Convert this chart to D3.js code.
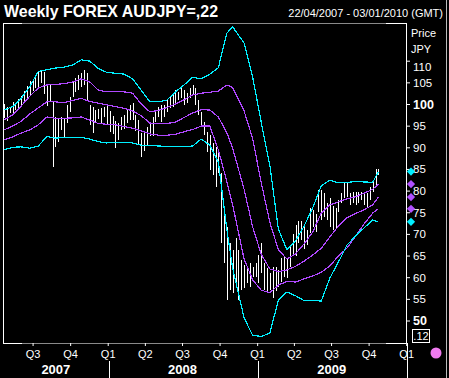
<!DOCTYPE html>
<html><head><meta charset="utf-8">
<script src="https://cdn.jsdelivr.net/npm/d3@7"></script>
<style>
html,body{margin:0;padding:0;background:#000;}
svg{display:block;}
text{font-family:"Liberation Sans",Arial,sans-serif;fill:#fff;}
</style></head><body>
<svg id="c" width="449" height="378"></svg>
<script>
// ---------- DATA ----------
const startDate = "2007-04-22";
const endDate = "2010-01-03";
// weekly bars (week index 0 = 22/04/2007)
const barHigh = [100.0,99.2,99.4,100.4,100.2,101.2,101.8,103.0,104.2,105.2,105.8,106.4,107.4,107.8,107.3,104.2,104.6,100.6,97.1,96.7,
97.1,96.7,99.8,101.7,105.3,106.0,106.7,107.1,107.8,107.1,99.8,99.4,98.6,98.8,99.0,99.4,99.6,98.4,97.3,96.1,
95.6,97.1,97.5,98.8,99.8,100.2,97.5,96.3,93.2,93.8,94.6,95.9,97.1,98.6,99.2,99.8,99.8,100.9,101.7,102.1,
103.2,102.8,104.0,103.2,102.5,103.6,104.4,103.6,100.9,98.2,95.9,93.6,92.8,90.9,90.1,89.4,84.0,75.5,71.7,67.8,
66.3,69.0,66.3,64.0,62.8,62.4,63.2,62.4,63.2,65.1,67.8,63.2,62.1,60.9,62.4,62.4,61.7,64.4,64.7,64.4,
67.5,70.0,72.0,73.0,73.0,72.3,71.0,75.9,75.5,74.6,80.1,80.1,79.4,77.1,78.2,76.5,75.9,77.8,79.4,81.7,
81.7,79.4,79.7,79.7,79.7,79.7,79.7,79.4,80.9,82.4,85.1,85.0];
const barLow = [96.8,96.0,97.9,98.0,98.6,99.0,99.4,100.2,101.3,102.0,103.0,103.8,103.9,104.8,102.4,99.6,100.4,85.5,90.1,91.3,
94.0,92.4,95.5,98.2,101.7,102.8,103.2,104.0,104.4,100.6,95.1,93.2,95.9,96.6,95.5,96.9,95.3,93.6,93.0,89.8,
91.8,94.0,94.2,95.5,96.3,96.4,93.8,90.5,87.8,89.2,90.5,92.5,92.5,95.9,97.1,95.9,97.1,98.2,99.0,99.4,
100.2,100.9,101.3,99.8,100.2,101.3,102.1,99.8,97.5,95.1,92.8,89.0,84.8,83.6,80.9,84.0,68.0,63.2,54.7,57.0,
56.3,58.6,54.7,57.0,57.4,58.6,57.8,60.1,60.1,58.6,60.9,57.0,56.3,57.0,55.1,56.7,57.8,59.0,60.1,59.8,
62.4,65.0,65.0,67.8,68.5,66.5,67.5,70.2,71.5,70.5,75.0,73.2,74.0,73.2,71.7,71.0,71.3,75.1,77.1,78.2,
78.6,76.7,77.1,76.7,77.1,77.8,76.7,75.9,77.8,79.7,80.9,83.6];
// indicator bands, sampled at these week indices
const bandWeeks = [0,3,6,9,12,15,18,21,24,27,30,33,36,39,42,45,48,51,54,57,60,63,66,69,72,75,78,80,84,87,90,93,96,99,102,105,108,111,114,117,120,123,126,129,131];
const upperOuter = [98.6,99.4,101.3,104.0,107.5,107.9,108.3,108.5,109.0,110.2,109.9,108.2,107.3,107.1,106.9,105.8,103.2,100.5,100.5,100.9,102.8,104.4,106.2,105.8,106.9,108.4,116.4,117.8,114.1,106.2,95.8,85.9,71.1,66.3,68.4,71.8,76.0,81.1,82.4,81.8,81.9,82.1,82.0,81.9,84.4];
const upperInner = [96.3,97.5,99.5,101.8,103.7,104.4,104.5,104.7,105.1,105.8,105.1,103.2,102.8,102.8,102.8,102.5,100.0,98.2,98.5,99.2,100.0,101.0,102.1,102.5,102.7,103.0,104.4,103.8,98.4,92.0,81.8,72.7,66.3,64.2,65.4,67.7,70.4,74.8,76.7,77.4,78.1,78.6,79.4,80.3,81.5];
const middle = [94.0,94.9,96.0,97.7,99.1,100.5,100.5,100.3,100.8,101.3,100.6,100.2,99.8,99.4,99.0,98.4,97.3,95.6,95.5,95.5,95.8,96.9,97.9,98.7,98.6,97.0,93.3,89.8,80.3,71.6,65.3,61.9,61.3,61.7,62.5,63.7,65.1,66.7,69.3,71.8,73.7,74.7,75.6,76.7,78.5];
const lowerInner = [91.7,92.4,93.3,94.0,95.2,97.0,96.7,96.7,96.8,97.0,96.3,95.5,95.3,95.2,94.8,94.4,93.8,93.1,92.8,92.8,93.0,93.6,94.1,94.9,94.9,89.4,82.0,76.7,64.2,59.4,57.0,56.4,58.2,59.0,58.9,59.6,60.3,61.1,62.6,64.9,66.7,69.5,72.3,74.8,75.8];
const lowerOuter = [89.4,90.0,90.1,89.8,90.3,92.5,92.1,92.3,92.3,92.3,91.9,91.3,91.0,91.2,91.2,91.0,90.5,90.5,90.3,90.2,90.1,90.1,90.3,91.9,90.5,86.6,70.9,62.1,50.6,46.6,46.3,47.1,54.7,56.6,55.7,54.6,54.6,54.5,59.8,63.5,67.4,69.5,71.4,73.2,72.8];
const priceTicks = [110,105,100,95,90,85,80,75,70,65,60,55,50];
const boldTicks = [100,50];
const quarterDates = ["2007-07-01","2007-10-01","2008-01-01","2008-04-01","2008-07-01","2008-10-01","2009-01-01","2009-04-01","2009-07-01","2009-10-01","2010-01-01"];
const quarterLabels = ["Q3","Q4","Q1","Q2","Q3","Q4","Q1","Q2","Q3","Q4","Q1"];
const yearLabels = ["2007","2008","2009"];
const yearStarts = ["2007-04-22","2008-01-01","2009-01-01"];
const yearEnds = ["2008-01-01","2009-01-01","2010-01-01"];
const titleText = "Weekly FOREX AUDJPY=,22";
const rangeText = "22/04/2007 - 03/01/2010 (GMT)";

// ---------- CHART ----------
const parse = d3.timeParse("%Y-%m-%d");
const t0 = parse(startDate);
const weekDate = w => d3.timeDay.offset(t0, 7 * w);
const svg = d3.select("#c");
const CYAN = "#00f0ff", PURPLE = "#b048ff";

svg.append("rect").attr("width", 449).attr("height", 378).attr("fill", "#000");

const x = d3.scaleTime().domain([t0, parse(endDate)]).range([4, 407]);
const y = d3.scaleLinear().domain([50, 110]).range([320.5, 60.7]);

// frame
svg.append("rect").attr("x", 3.5).attr("y", 23.5).attr("width", 403).attr("height", 320)
  .attr("fill", "none").attr("stroke", "#fff").attr("stroke-width", 1).attr("shape-rendering", "crispEdges");
[23.5, 343.5].forEach(yy => svg.append("line").attr("x1", 22).attr("x2", 386).attr("y1", yy).attr("y2", yy)
  .attr("stroke", "#8a8a8a").attr("shape-rendering", "crispEdges"));

// bars
const bars = svg.append("g").attr("shape-rendering", "crispEdges");
bars.selectAll("line").data(barHigh.map((h, i) => ({i, h, l: barLow[i]}))).join("line")
  .attr("x1", d => Math.round(x(weekDate(d.i))) + 0.5)
  .attr("x2", d => Math.round(x(weekDate(d.i))) + 0.5)
  .attr("y1", d => y(d.h)).attr("y2", d => y(d.l))
  .attr("stroke", "#fff").attr("stroke-width", 1);

// bands
const bandSeries = [
  {vals: upperOuter, color: CYAN}, {vals: upperInner, color: PURPLE}, {vals: middle, color: PURPLE},
  {vals: lowerInner, color: PURPLE}, {vals: lowerOuter, color: CYAN}];
const line = d3.line().x(d => x(weekDate(d[0]))).y(d => y(d[1]));
bandSeries.forEach(s => {
  svg.append("path").datum(bandWeeks.map((w, k) => [w, s.vals[k]]))
    .attr("d", line).attr("fill", "none").attr("stroke", s.color).attr("stroke-width", 1.2)
    .attr("shape-rendering", "crispEdges");
});

// y axis (right)
const yAxis = svg.append("g").attr("transform", "translate(406,0)")
  .call(d3.axisRight(y).tickValues(priceTicks).tickSize(4).tickPadding(3).tickFormat(d3.format("d")));
yAxis.select(".domain").remove();
yAxis.selectAll(".tick line").attr("stroke", "#fff");
yAxis.selectAll(".tick text").attr("fill", "#fff")
  .style("font-family", '"Liberation Sans",Arial,sans-serif')
  .style("font-size", d => boldTicks.includes(d) ? "12.5px" : "11.5px")
  .style("font-weight", d => boldTicks.includes(d) ? "bold" : "normal")
  .attr("dy", d => d === 110 ? "0.85em" : "0.35em");

// band end markers
bandSeries.forEach(s => {
  svg.append("path").attr("d", d3.symbol(d3.symbolSquare, 34)())
    .attr("transform", `translate(411,${y(s.vals[s.vals.length - 1])}) rotate(45)`)
    .attr("fill", s.color === CYAN ? CYAN : "#b050ff");
});

// x axis
const xAxis = svg.append("g").attr("transform", "translate(0,343)")
  .call(d3.axisBottom(x).tickValues(quarterDates.map(parse)).tickSize(3).tickPadding(4)
    .tickFormat((d, i) => quarterLabels[i]));
xAxis.select(".domain").remove();
xAxis.selectAll(".tick line").attr("stroke", "#fff");
xAxis.selectAll(".tick text").attr("fill", "#fff")
  .style("font-family", '"Liberation Sans",Arial,sans-serif').style("font-size", "11px");

// years
yearLabels.forEach((yl, i) => {
  const a = x(parse(yearStarts[i])), b = x(parse(yearEnds[i]));
  svg.append("text").attr("x", (a + b) / 2).attr("y", 374).attr("text-anchor", "middle")
    .style("font-size", "13px").style("font-weight", "bold").text(yl);
  svg.append("line").attr("x1", Math.round(b) + 1.5).attr("x2", Math.round(b) + 1.5)
    .attr("y1", i === 2 ? 343 : 361).attr("y2", 378).attr("stroke", "#fff");
});

// header
svg.append("text").attr("x", 4).attr("y", 17).style("font-size", "17px").style("font-weight", "bold")
  .attr("textLength", 214).attr("lengthAdjust", "spacingAndGlyphs").text(titleText);
svg.append("text").attr("x", 443).attr("y", 17).attr("text-anchor", "end").style("font-size", "11px").text(rangeText);
svg.append("text").attr("x", 411).attr("y", 37).style("font-size", "11px").text("Price");
svg.append("text").attr("x", 411).attr("y", 53).style("font-size", "11px").text("JPY");

// scale box + marker
svg.append("rect").attr("x", 412.5).attr("y", 329.5).attr("width", 17).attr("height", 13)
  .attr("fill", "none").attr("stroke", "#fff");
svg.append("text").attr("x", 421).attr("y", 340).attr("text-anchor", "middle").style("font-size", "11px").text(".12");
svg.append("circle").attr("cx", 436).attr("cy", 353).attr("r", 5.5).attr("fill", "#f07af0");
svg.append("line").attr("x1", 446.5).attr("x2", 446.5).attr("y1", 0).attr("y2", 378).attr("stroke", "#bbb");
</script>
</body></html>
